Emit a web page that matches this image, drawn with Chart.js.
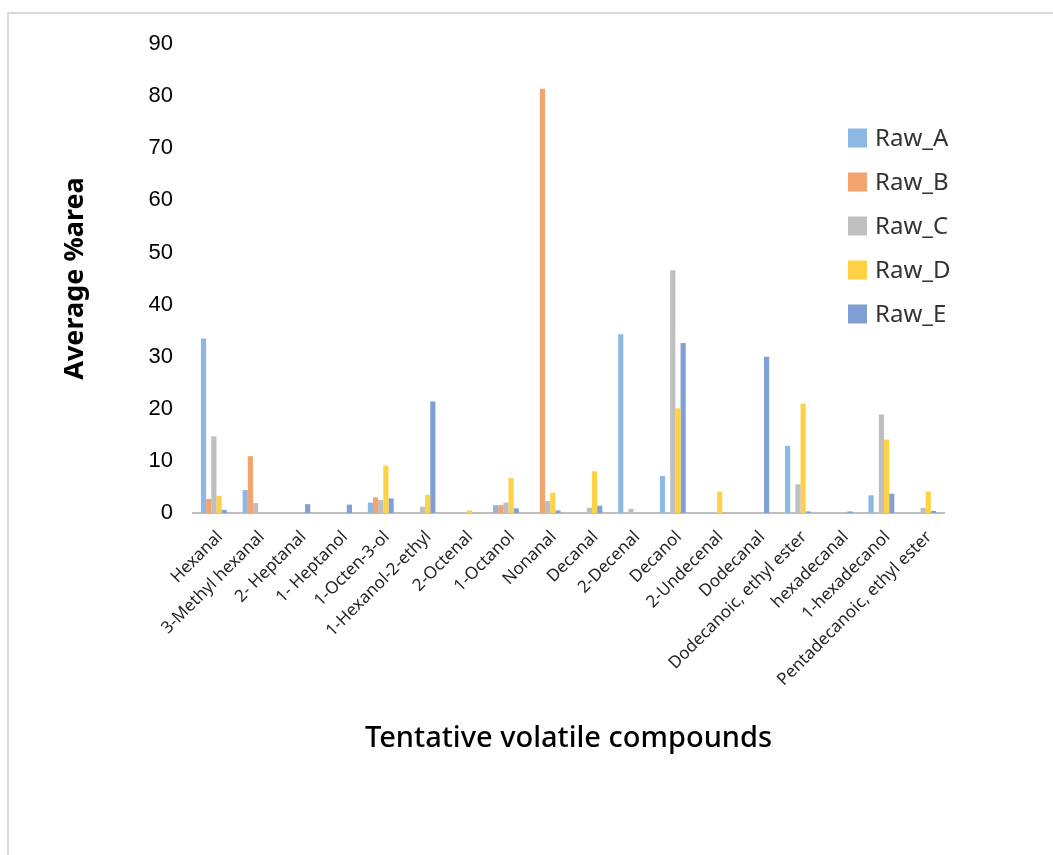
<!DOCTYPE html>
<html>
<head>
<meta charset="utf-8">
<script src="https://cdn.jsdelivr.net/npm/chart.js@4.4.1/dist/chart.umd.min.js"></script>
<style>
  html, body { margin: 0; padding: 0; background: #ffffff; }
  #wrap { width: 1053px; height: 855px; position: relative; }
</style>
</head>
<body>
<div id="wrap"><canvas id="chart" width="1053" height="855"></canvas></div>
<script>
// Compounds along the x axis
const categories = [
  'Hexanal', '3-Methyl hexanal', '2- Heptanal', '1- Heptanol', '1-Octen-3-ol',
  '1-Hexanol-2-ethyl', '2-Octenal', '1-Octanol', 'Nonanal', 'Decanal',
  '2-Decenal', 'Decanol', '2-Undecenal', 'Dodecanal', 'Dodecanoic, ethyl ester',
  'hexadecanal', '1-hexadecanol', 'Pentadecanoic, ethyl ester'
];

// Average %area per sample
const rawA = [33.5, 4.4, 0, 0, 2.0, 0, 0, 1.5, 0, 0, 34.3, 7.1, 0, 0, 12.9, 0, 3.4, 0];
const rawB = [2.7, 10.9, 0, 0, 3.0, 0, 0, 1.5, 81.4, 0, 0, 0, 0, 0, 0, 0, 0, 0];
const rawC = [14.7, 1.9, 0, 0, 2.5, 1.2, 0, 2.0, 2.3, 1.0, 0.8, 46.6, 0, 0, 5.5, 0, 18.9, 1.0];
const rawD = [3.3, 0, 0, 0, 9.1, 3.5, 0.5, 6.7, 3.9, 8.0, 0, 20.1, 4.1, 0, 21.0, 0, 14.1, 4.1];
const rawE = [0.6, 0, 1.7, 1.6, 2.8, 21.4, 0, 0.9, 0.5, 1.4, 0, 32.6, 0, 30.0, 0.3, 0.3, 3.7, 0.4];

const seriesNames = ['Raw_A', 'Raw_B', 'Raw_C', 'Raw_D', 'Raw_E'];
const seriesValues = [rawA, rawB, rawC, rawD, rawE];
const seriesColors = ['#8EB8E4', '#F4A46F', '#BFBFBF', '#FFD246', '#7F9FD6'];

// y axis tick settings
const yMin = 0, yMax = 90, yStep = 10;

const uiFont = '"Noto Sans", "Open Sans", sans-serif';

// White page with the thin frame line on the left and top
const framePlugin = {
  id: 'frame',
  beforeDraw(chart) {
    const ctx = chart.ctx;
    ctx.save();
    ctx.fillStyle = '#ffffff';
    ctx.fillRect(0, 0, chart.width, chart.height);
    ctx.strokeStyle = '#d9d9d9';
    ctx.lineWidth = 2;
    ctx.beginPath();
    ctx.moveTo(8, chart.height);
    ctx.lineTo(8, 13);
    ctx.lineTo(chart.width, 13);
    ctx.stroke();
    ctx.restore();
  }
};

// Legend drawn inside the plot, stacked vertically at the right
const innerLegend = {
  id: 'innerLegend',
  afterDraw(chart) {
    const ctx = chart.ctx;
    ctx.save();
    ctx.font = '24px ' + uiFont;
    ctx.textBaseline = 'middle';
    ctx.textAlign = 'left';
    chart.data.datasets.forEach((ds, i) => {
      const cy = 138 + i * 44;
      ctx.fillStyle = ds.backgroundColor;
      ctx.fillRect(848, cy - 9.5, 19, 19);
      ctx.fillStyle = '#333333';
      ctx.fillText(ds.label, 875, cy + 1);
    });
    ctx.restore();
  }
};

new Chart(document.getElementById('chart'), {
  type: 'bar',
  data: {
    labels: categories,
    datasets: seriesNames.map((name, i) => ({
      label: name,
      data: seriesValues[i],
      backgroundColor: seriesColors[i],
      borderWidth: 0,
      categoryPercentage: 0.62,
      barPercentage: 1.0
    }))
  },
  options: {
    responsive: false,
    animation: false,
    devicePixelRatio: 1,
    layout: { padding: { left: 55, right: 109, top: 44, bottom: 98 } },
    plugins: {
      legend: { display: false },
      tooltip: { enabled: false }
    },
    scales: {
      x: {
        grid: { display: false, drawTicks: false },
        border: { display: true, color: '#BFBFBF', width: 2 },
        ticks: {
          autoSkip: false,
          minRotation: 45,
          maxRotation: 45,
          padding: 14,
          labelOffset: 6,
          color: '#262626',
          font: { family: uiFont, size: 17 }
        },
        title: {
          display: true,
          text: 'Tentative volatile compounds',
          color: '#000000',
          font: { family: uiFont, size: 29, weight: '500' },
          padding: { top: 4, bottom: 1 }
        },
        afterFit(scale) { scale.height = 244; }
      },
      y: {
        min: yMin,
        max: yMax,
        grid: { display: false, drawTicks: false },
        border: { display: false },
        ticks: {
          stepSize: yStep,
          padding: 20,
          color: '#000000',
          font: { family: '"Liberation Sans", Arial, sans-serif', size: 22 }
        },
        title: {
          display: true,
          text: 'Average %area',
          color: '#000000',
          font: { family: uiFont, size: 27, weight: 'bold' },
          padding: { top: 4, bottom: 4 }
        },
        afterFit(scale) { scale.width = 138; }
      }
    }
  },
  plugins: [framePlugin, innerLegend]
});
</script>
</body>
</html>
